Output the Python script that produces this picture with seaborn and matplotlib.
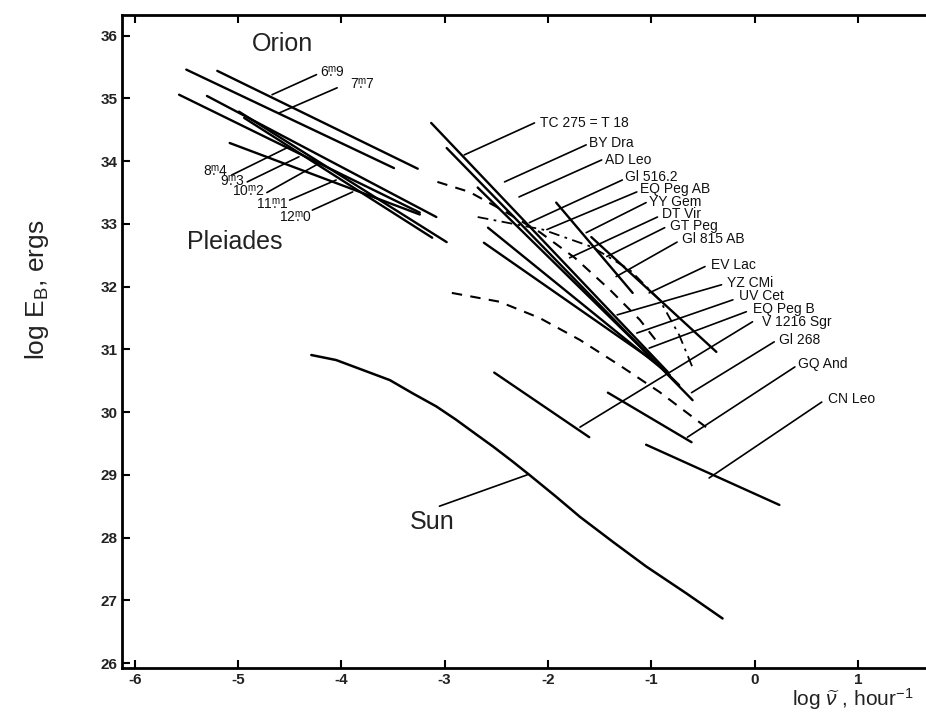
import matplotlib
matplotlib.use("Agg")
import matplotlib.pyplot as plt
import seaborn as sns

# ---------------- data (log nu, log E) ----------------
orion_69 = ([-5.20, -3.26], [35.44, 33.88])
orion_77 = ([-5.50, -3.49], [35.46, 33.89])
pleiades_a = ([-5.57, -3.24], [35.06, 33.18])
pleiades_b = ([-5.30, -3.08], [35.04, 33.11])
pleiades_c = ([-4.99, -2.98], [34.79, 32.71])
pleiades_d = ([-4.94, -3.12], [34.69, 32.78])
pleiades_e = ([-5.08, -3.24], [34.29, 33.15])

sun_x = [-4.29, -4.05, -3.79, -3.53, -3.31, -3.08, -2.89, -2.69, -2.53,
         -2.34, -2.18, -1.92, -1.69, -1.37, -1.05, -0.66, -0.31]
sun_y = [30.91, 30.83, 30.67, 30.51, 30.30, 30.09, 29.88, 29.64, 29.45,
         29.21, 29.00, 28.65, 28.33, 27.93, 27.54, 27.11, 26.71]

tc275 = ([-3.13, -0.84], [34.61, 30.64])
by_dra = ([-2.98, -0.60], [34.21, 30.19])
ad_leo = ([-2.68, -0.73], [33.58, 30.43])
gl516 = ([-1.92, -1.18], [33.34, 31.90])
eq_peg_ab = ([-2.58, -0.82], [32.94, 30.59])
bundle_extra = ([-2.62, -0.92], [32.70, 30.75])
yy_gem = ([-1.58, -0.37], [32.79, 30.96])
seg_v1216 = ([-2.52, -1.60], [30.63, 29.60])
seg_gq = ([-1.42, -0.61], [30.31, 29.52])
seg_cn = ([-1.05, 0.24], [29.48, 28.52])

dash_a_x = [-3.07, -2.76, -2.44, -2.08, -1.74, -1.40, -1.11, -0.92]
dash_a_y = [33.67, 33.51, 33.22, 32.87, 32.46, 31.95, 31.47, 31.07]
dash_b_x = [-2.68, -2.05, -1.57, -1.21, -0.92, -0.73, -0.60]
dash_b_y = [33.11, 32.91, 32.63, 32.27, 31.79, 31.23, 30.71]
dash_c_x = [-2.93, -2.47, -2.08, -1.69, -1.31, -0.92, -0.47]
dash_c_y = [31.90, 31.76, 31.50, 31.15, 30.75, 30.32, 29.76]

star_names = ["TC 275 = T 18", "BY Dra", "AD Leo", "Gl 516.2", "EQ Peg AB",
              "YY Gem", "DT Vir", "GT Peg", "Gl 815 AB", "EV Lac", "YZ CMi",
              "UV Cet", "EQ Peg B", "V 1216 Sgr", "Gl 268", "GQ And", "CN Leo"]
star_label_x = [-2.08, -1.60, -1.45, -1.25, -1.11, -1.02, -0.90, -0.82, -0.70,
                -0.42, -0.27, -0.15, -0.02, 0.07, 0.24, 0.42, 0.71]
star_label_y = [34.61, 34.29, 34.02, 33.75, 33.56, 33.35, 33.16, 32.97, 32.76,
                32.35, 32.06, 31.85, 31.65, 31.44, 31.15, 30.77, 30.21]
star_lead_x0 = [-2.81, -2.42, -2.28, -2.18, -2.01, -1.63, -1.79, -1.43, -1.34,
                -1.02, -1.33, -1.14, -1.02, -1.69, -0.61, -0.65, -0.44]
star_lead_y0 = [34.10, 33.67, 33.43, 33.02, 32.91, 32.86, 32.46, 32.48, 32.16,
                31.90, 31.55, 31.26, 31.02, 29.76, 30.31, 29.60, 28.95]
star_lead_x1 = [-2.13, -1.63, -1.48, -1.28, -1.14, -1.05, -0.94, -0.87, -0.75,
                -0.48, -0.32, -0.21, -0.08, -0.02, 0.19, 0.39, 0.65]
star_lead_y1 = [34.61, 34.26, 34.02, 33.70, 33.51, 33.34, 33.11, 32.94, 32.71,
                32.32, 32.03, 31.79, 31.60, 31.44, 31.12, 30.72, 30.16]

mag_labels = [r"$6\overset{\mathrm{m}}{.}9$", r"$7\overset{\mathrm{m}}{.}7$",
              r"$8\overset{\mathrm{m}}{.}4$", r"$9\overset{\mathrm{m}}{.}3$",
              r"$10\overset{\mathrm{m}}{.}2$", r"$11\overset{\mathrm{m}}{.}1$",
              r"$12\overset{\mathrm{m}}{.}0$"]
mag_label_x = [-4.21, -3.92, -5.09, -4.93, -4.74, -4.51, -4.29]
mag_label_y = [35.40, 35.22, 33.83, 33.66, 33.50, 33.30, 33.10]
mag_lead_x0 = [-4.67, -4.60, -5.06, -4.91, -4.72, -4.50, -4.28]
mag_lead_y0 = [35.06, 34.77, 33.78, 33.67, 33.50, 33.38, 33.22]
mag_lead_x1 = [-4.24, -4.04, -4.53, -4.41, -4.21, -4.05, -3.89]
mag_lead_y1 = [35.38, 35.17, 34.21, 34.07, 33.97, 33.70, 33.51]

sun_lead = ([-3.05, -2.20], [28.50, 29.00])

group_names = ["Orion", "Pleiades", "Sun"]
group_x = [-4.57, -5.03, -3.12]
group_y = [35.87, 32.71, 28.25]

x_ticks = [-6, -5, -4, -3, -2, -1, 0, 1]
y_ticks = list(range(26, 37))

# ---------------- figure ----------------
sns.set_theme(style="ticks")
plt.rcParams["font.family"] = ["Liberation Sans", "DejaVu Sans"]
plt.rcParams["mathtext.fontset"] = "custom"
plt.rcParams["mathtext.rm"] = "Liberation Sans"
plt.rcParams["mathtext.it"] = "Liberation Sans:italic"

fig = plt.figure(figsize=(9.26, 7.16), dpi=100)
ax = fig.add_axes([0.132, 0.067, 0.867, 0.912])

def seg(xy, lw=1.7, ls="-"):
    x, y = xy
    sns.lineplot(x=x, y=y, ax=ax, color="black", lw=lw, linestyle=ls,
                 sort=False, estimator=None)

for s in [orion_69, orion_77, pleiades_a, pleiades_b, pleiades_c,
          pleiades_d, pleiades_e, tc275, by_dra, ad_leo, gl516, eq_peg_ab,
          bundle_extra, yy_gem, seg_v1216, seg_gq, seg_cn]:
    seg(s)
seg((sun_x, sun_y), lw=1.8)
seg((dash_a_x, dash_a_y), lw=1.5, ls=(0, (5, 4)))
seg((dash_b_x, dash_b_y), lw=1.3, ls=(0, (6, 3, 1.5, 3)))
seg((dash_c_x, dash_c_y), lw=1.5, ls=(0, (5, 4)))

for i in range(len(star_names)):
    seg(([star_lead_x0[i], star_lead_x1[i]], [star_lead_y0[i], star_lead_y1[i]]), lw=1.2)
    ax.text(star_label_x[i], star_label_y[i], star_names[i], fontsize=10,
            ha="left", va="center", color="#111111")

for i in range(len(mag_labels)):
    seg(([mag_lead_x0[i], mag_lead_x1[i]], [mag_lead_y0[i], mag_lead_y1[i]]), lw=1.2)
    ha = "left" if i < 2 else "right"
    ax.text(mag_label_x[i], mag_label_y[i], mag_labels[i], fontsize=10,
            ha=ha, va="center", color="#111111")

seg(sun_lead, lw=1.2)
for n, gx, gy in zip(group_names, group_x, group_y):
    ax.text(gx, gy, n, fontsize=18, ha="center", va="center", color="#222222")

ax.set_xlim(-6.12, 1.65)
ax.set_ylim(25.92, 36.33)
ax.set_xticks(x_ticks)
ax.set_yticks(y_ticks)
ax.set_xticklabels([str(t) for t in x_ticks], fontsize=11, fontweight="bold")
ax.set_yticklabels([str(t) for t in y_ticks], fontsize=11, fontweight="bold")
ax.tick_params(direction="in", length=6, width=1.5, top=True, right=False,
               color="black", labelcolor="#222222")
for sp in ["left", "bottom", "top"]:
    ax.spines[sp].set_linewidth(2.0)
    ax.spines[sp].set_color("black")
ax.spines["right"].set_visible(False)
ax.set_xlabel(r"log $\widetilde{\nu}$ , hour$^{-1}$", fontsize=15, color="#222222")
ax.xaxis.set_label_coords(0.91, -0.027)
ax.set_ylabel(r"log E$_{\mathrm{B}}$, ergs", fontsize=19, color="#222222")
ax.yaxis.set_label_coords(-0.089, 0.579)

fig.savefig("out.png", dpi=100)
